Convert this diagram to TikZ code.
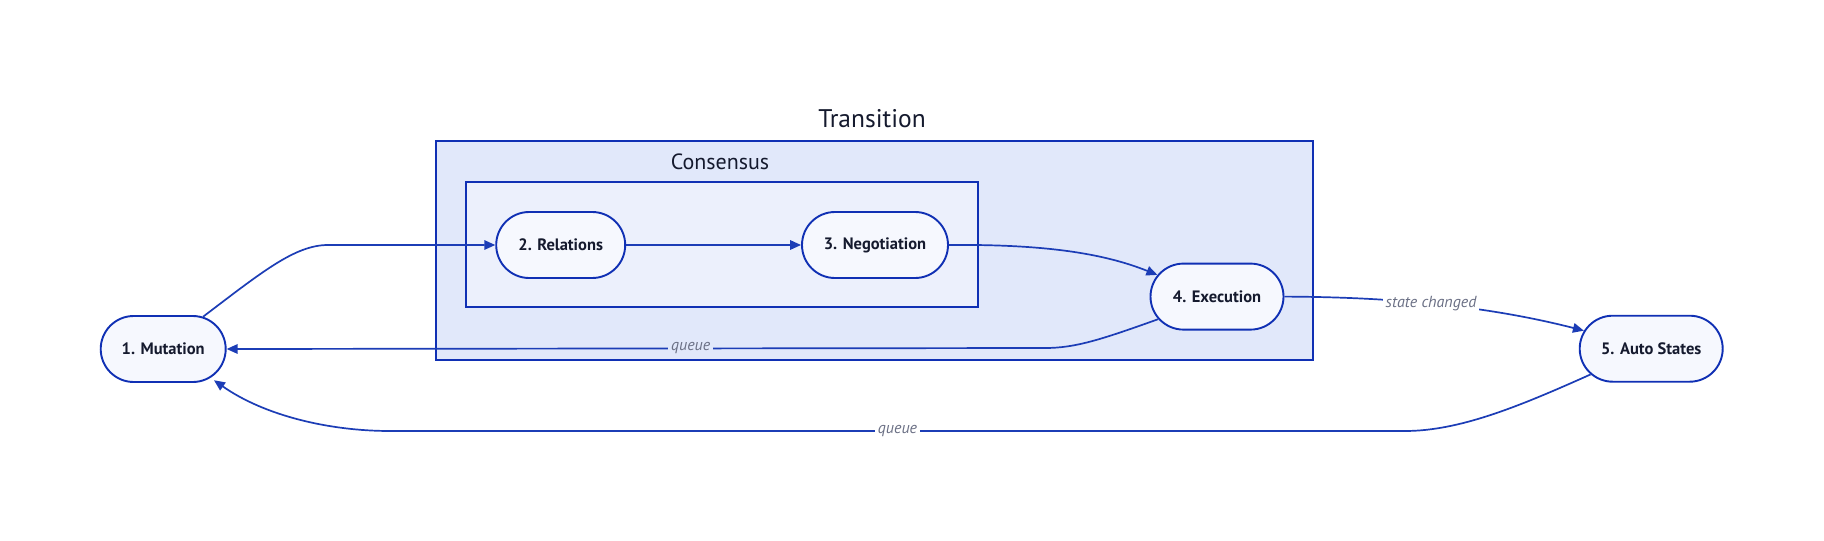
\documentclass[tikz,border=0pt]{standalone}
\usepackage{fontspec}
\setmainfont{PT Sans}
\usetikzlibrary{arrows.meta,shapes.misc}
\definecolor{boxline}{HTML}{1030B4}
\definecolor{edgecol}{HTML}{1C3DB6}
\definecolor{nodefill}{HTML}{F6F8FE}
\definecolor{outerfill}{HTML}{E1E8FA}
\definecolor{innerfill}{HTML}{ECF0FC}
\definecolor{txt}{HTML}{151A2E}
\definecolor{lbl}{HTML}{6B7085}
\tikzset{
  stadium/.style={rounded rectangle, draw=boxline, line width=1.9pt, fill=nodefill,
    minimum height=66pt, inner xsep=0pt, text=txt,
    font=\bfseries\fontsize{16.5}{18}\selectfont},
  groupbox/.style={rectangle, draw=boxline, line width=2pt, inner sep=0pt},
  conn/.style={draw=edgecol, line width=1.7pt, -{Triangle[length=11pt,width=9.5pt]}},
  elabel/.style={text=lbl, font=\itshape\fontsize{16}{18}\selectfont, inner sep=3pt},
  title/.style={text=txt, inner sep=0pt}
}
\begin{document}
\begin{tikzpicture}[x=1pt,y=-1pt]
\useasboundingbox (0,0) rectangle (1824,541);
\fill[white] (0,0) rectangle (1824,541);
% groups
\node[groupbox, fill=outerfill, minimum width=876.7pt, minimum height=219pt] (outer) at (874.6,250.3) {};
\node[groupbox, fill=innerfill, minimum width=512pt, minimum height=125.7pt] (inner) at (721.6,244.5) {};
\node[title, font=\fontsize{25.5}{30}\selectfont] (tlabel) at (872,118.7) {Transition};
\node[title, font=\fontsize{22}{26}\selectfont] (clabel) at (720,161.7) {Consensus};
% nodes
\node[stadium, minimum width=125pt] (m) at (163.2,349) {1. Mutation};
\node[stadium, minimum width=129pt] (r) at (560.7,245) {2. Relations};
\node[stadium, minimum width=146pt] (n) at (875,245) {3. Negotiation};
\node[stadium, minimum width=133pt] (e) at (1217,296.6) {4. Execution};
\node[stadium, minimum width=143pt] (a) at (1651.2,348.7) {5. Auto States};
% connectors
\draw[conn] (m.39) .. controls (262,272) and (295,245) .. (328,245) -- (r.west);
\draw[conn] (r.east) -- (n.west);
\draw[conn] (n.east) -- (975,245) .. controls (1060,246) and (1110,256) .. (e.160);
\draw[conn] (e.east) .. controls (1380,297) and (1480,304) .. node[pos=0.5, elabel, fill=white] {state changed} (a.165);
\draw[conn] (e.201) .. controls (1100,340) and (1075,348) .. (1045,348) -- node[pos=0.433, elabel, fill=outerfill] {queue} (m.east);
\draw[conn] (a.203) .. controls (1520,406) and (1460,431) .. (1405,431) -- node[pos=0.5, elabel, fill=white] {queue} (390,431) .. controls (330,431) and (265,416) .. ([xshift=4pt,yshift=-2pt]m.-32);
\end{tikzpicture}
\end{document}
